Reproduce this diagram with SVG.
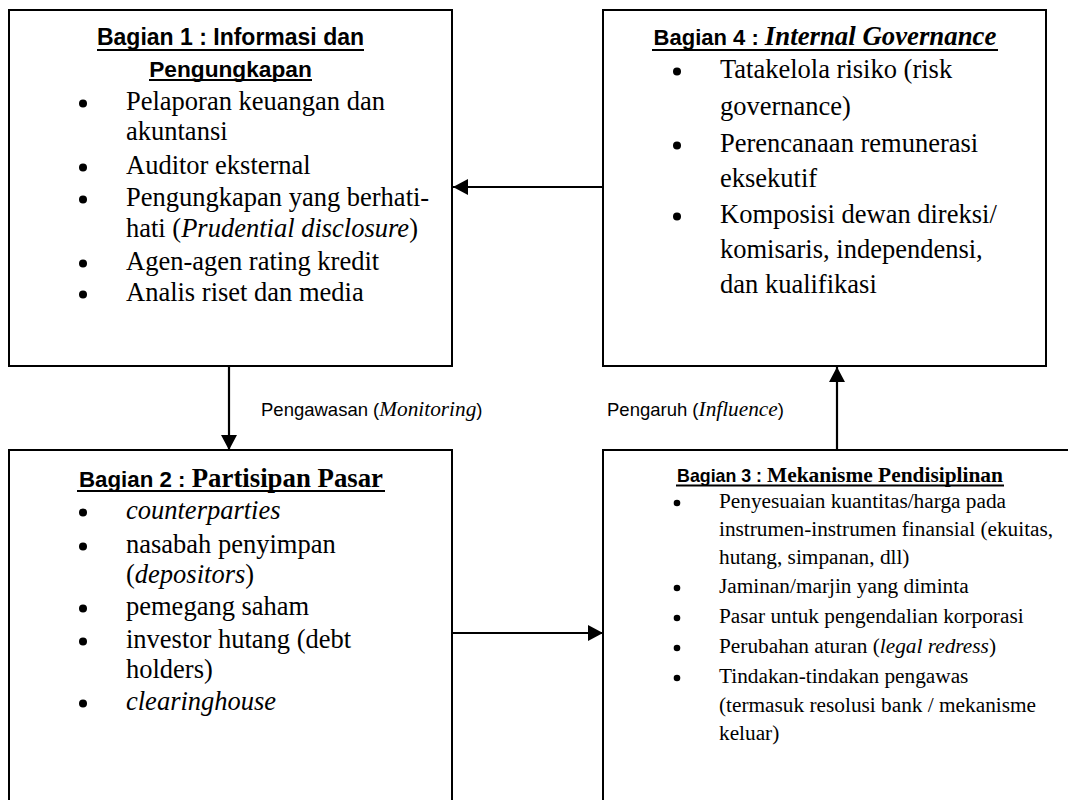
<svg xmlns="http://www.w3.org/2000/svg" width="1068" height="800" viewBox="0 0 1068 800">
<style>
.box{fill:#fff;stroke:#000;stroke-width:2}
.conn{stroke:#000;stroke-width:2.2;fill:none}
.ul{stroke:#000;stroke-width:1.8}
.dot{fill:#000}
.t{font-family:"Liberation Serif","Times New Roman",serif;fill:#000}
.b1{font-size:26.5px}
.b3{font-size:21.3px}
.h{font-family:"Liberation Sans",Arial,sans-serif;font-weight:bold;fill:#000}
.hs{font-family:"Liberation Serif","Times New Roman",serif;font-weight:bold}
.lbl{font-family:"Liberation Sans",Arial,sans-serif;font-size:18.5px;fill:#000}
.it{font-family:"Liberation Serif","Times New Roman",serif;font-style:italic;font-size:21.3px}
</style>
<defs>
<marker id="ah" markerUnits="userSpaceOnUse" markerWidth="16" markerHeight="16" refX="15" refY="8" orient="auto">
<path d="M0,0 L15,8 L0,16 Z" fill="#000"/>
</marker>
</defs>
<rect width="1068" height="800" fill="#fff"/>

<g id="connectors">
<line class="conn" x1="229" y1="366" x2="229" y2="450" marker-end="url(#ah)"/>
<line class="conn" x1="603" y1="187" x2="453" y2="187" marker-end="url(#ah)"/>
<line class="conn" x1="837" y1="450" x2="837" y2="367" marker-end="url(#ah)"/>
<line class="conn" x1="452" y1="633" x2="603" y2="633" marker-end="url(#ah)"/>
<text class="lbl" x="261" y="416">Pengawasan (<tspan class="it">Monitoring</tspan>)</text>
<text class="lbl" x="607" y="416">Pengaruh (<tspan class="it">Influence</tspan>)</text>
</g>

<g id="node1">
<rect class="box" x="9" y="10" width="443" height="356"/>
<text class="h" x="230.5" y="45" font-size="23" text-anchor="middle">Bagian 1 : Informasi dan</text>
<text class="h" x="230.5" y="77" font-size="22.7" text-anchor="middle">Pengungkapan</text>
<line class="ul" x1="97" y1="50" x2="364" y2="50"/>
<line class="ul" x1="149" y1="80" x2="312" y2="80"/>
<g class="dot">
<circle cx="83" cy="103.5" r="4"/>
<circle cx="83" cy="167.5" r="4"/>
<circle cx="83" cy="199.5" r="4"/>
<circle cx="83" cy="263.5" r="4"/>
<circle cx="83" cy="294.5" r="4"/>
</g>
<g class="t b1">
<text x="126" y="110">Pelaporan keuangan dan</text>
<text x="126" y="140">akuntansi</text>
<text x="126" y="174">Auditor eksternal</text>
<text x="126" y="206">Pengungkapan yang berhati-</text>
<text x="126" y="237">hati (<tspan font-style="italic">Prudential disclosure</tspan>)</text>
<text x="126" y="270">Agen-agen rating kredit</text>
<text x="126" y="301">Analis riset dan media</text>
</g>
</g>

<g id="node4">
<rect class="box" x="603" y="10" width="443" height="356"/>
<text class="h" x="825" y="45" font-size="22" text-anchor="middle">Bagian 4 : <tspan class="hs" font-style="italic" font-size="26.8">Internal Governance</tspan></text>
<line class="ul" x1="652" y1="50" x2="998" y2="50"/>
<g class="dot">
<circle cx="677" cy="71.5" r="4"/>
<circle cx="677" cy="145.5" r="4"/>
<circle cx="677" cy="216.5" r="4"/>
</g>
<g class="t b1">
<text x="720" y="78">Tatakelola risiko (risk</text>
<text x="720" y="115">governance)</text>
<text x="720" y="152">Perencanaan remunerasi</text>
<text x="720" y="187">eksekutif</text>
<text x="720" y="223">Komposisi dewan direksi/</text>
<text x="720" y="258">komisaris, independensi,</text>
<text x="720" y="293">dan kualifikasi</text>
</g>
</g>

<g id="node2">
<rect class="box" x="9" y="450" width="443" height="360"/>
<text class="h" x="231" y="487" font-size="22.3" text-anchor="middle">Bagian 2 : <tspan class="hs" font-size="26.8">Partisipan Pasar</tspan></text>
<line class="ul" x1="77" y1="491" x2="385" y2="491"/>
<g class="dot">
<circle cx="83" cy="512.5" r="4"/>
<circle cx="83" cy="546.5" r="4"/>
<circle cx="83" cy="608.5" r="4"/>
<circle cx="83" cy="641.5" r="4"/>
<circle cx="83" cy="703.5" r="4"/>
</g>
<g class="t b1">
<text x="126" y="519" font-style="italic">counterparties</text>
<text x="126" y="553">nasabah penyimpan</text>
<text x="126" y="583">(<tspan font-style="italic">depositors</tspan>)</text>
<text x="126" y="615">pemegang saham</text>
<text x="126" y="648">investor hutang (debt</text>
<text x="126" y="678">holders)</text>
<text x="126" y="710" font-style="italic">clearinghouse</text>
</g>
</g>

<g id="node3">
<rect class="box" x="603" y="450" width="474" height="360"/>
<text class="h" x="840" y="482" font-size="17.8" text-anchor="middle">Bagian 3 : <tspan class="hs" font-size="21.4">Mekanisme Pendisiplinan</tspan></text>
<line class="ul" x1="676" y1="485.5" x2="1004" y2="485.5"/>
<g class="dot">
<circle cx="677" cy="503" r="3.3"/>
<circle cx="677" cy="588" r="3.3"/>
<circle cx="677" cy="618" r="3.3"/>
<circle cx="677" cy="648" r="3.3"/>
<circle cx="677" cy="678" r="3.3"/>
</g>
<g class="t b3">
<text x="719" y="508">Penyesuaian kuantitas/harga pada</text>
<text x="719" y="536">instrumen-instrumen finansial (ekuitas,</text>
<text x="719" y="564">hutang, simpanan, dll)</text>
<text x="719" y="593">Jaminan/marjin yang diminta</text>
<text x="719" y="623">Pasar untuk pengendalian korporasi</text>
<text x="719" y="653">Perubahan aturan (<tspan font-style="italic">legal redress</tspan>)</text>
<text x="719" y="683">Tindakan-tindakan pengawas</text>
<text x="719" y="712">(termasuk resolusi bank / mekanisme</text>
<text x="719" y="740">keluar)</text>
</g>
</g>
</svg>
